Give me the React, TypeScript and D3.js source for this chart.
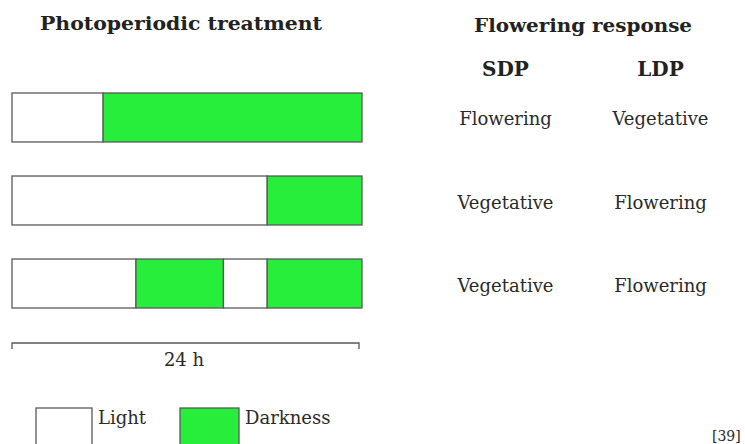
import React from "react";
import * as d3 from "d3";

// hours of light / dark, alternating, starting with light
const treatments = ["Short day", "Long day", "Night break"];
const segmentHours = [
  [6.25, 17.75],
  [17.5, 6.5],
  [8.5, 6, 3, 6.5],
];
const sdpResponse = ["Flowering", "Vegetative", "Vegetative"];
const ldpResponse = ["Vegetative", "Flowering", "Flowering"];
const plantTypes = ["SDP", "LDP"];
const legendItems = ["Light", "Darkness"];

const W = 745;
const H = 444;
const GREEN = "#26ee3a";
const STROKE = "#5a5a5a";
const FONT = "'DejaVu Serif', serif";

const App = () => {
  const x = d3.scaleLinear().domain([0, 24]).range([12, 362]);
  const y = d3.scaleBand().domain(treatments).range([93, 308]).paddingInner(0.41);
  const col = d3.scaleBand().domain(plantTypes).range([428, 738]);

  const rows = segmentHours.map((hrs, i) => {
    let acc = 0;
    const segs = hrs.map((h, j) => {
      const s = { start: acc, end: acc + h, dark: j % 2 === 1 };
      acc += h;
      return s;
    });
    return { name: treatments[i], segs };
  });

  const scaleY = 343;

  return (
    <svg width={W} height={H} style={{ display: "block", position: "absolute", left: 0, top: 0 }}>
      <rect width={W} height={H} fill="#fff" />
      <g fontFamily={FONT} fill="#222">
        <text x={181} y={30} textAnchor="middle" fontWeight="bold" fontSize={19} textLength={282} lengthAdjust="spacingAndGlyphs">
          Photoperiodic treatment
        </text>
        <text x={583} y={32} textAnchor="middle" fontWeight="bold" fontSize={19} textLength={218} lengthAdjust="spacingAndGlyphs">
          Flowering response
        </text>
        {plantTypes.map((p) => (
          <text key={p} x={col(p)! + col.bandwidth() / 2} y={76} textAnchor="middle" fontWeight="bold" fontSize={20}>
            {p}
          </text>
        ))}
      </g>

      {rows.map((r) => (
        <g key={r.name}>
          {r.segs.map((s, j) => (
            <rect
              key={j}
              x={x(s.start)}
              y={y(r.name)}
              width={x(s.end) - x(s.start)}
              height={y.bandwidth()}
              fill={s.dark ? GREEN : "#fff"}
              stroke={STROKE}
              strokeWidth={1.3}
            />
          ))}
        </g>
      ))}

      <g fontFamily={FONT} fill="#2a2a2a" fontSize={18}>
        {treatments.map((t, i) => (
          <g key={t}>
            <text x={col("SDP")! + col.bandwidth() / 2} y={y(t)! + y.bandwidth() / 2 + 8} textAnchor="middle">
              {sdpResponse[i]}
            </text>
            <text x={col("LDP")! + col.bandwidth() / 2} y={y(t)! + y.bandwidth() / 2 + 8} textAnchor="middle">
              {ldpResponse[i]}
            </text>
          </g>
        ))}
      </g>

      <path
        d={`M${x(0)},${scaleY + 6}V${scaleY}H${x(24) - 3}V${scaleY + 6}`}
        fill="none"
        stroke={STROKE}
        strokeWidth={1.3}
      />
      <text x={184} y={366} textAnchor="middle" fontFamily={FONT} fontSize={18} fill="#2a2a2a">
        24 h
      </text>

      {legendItems.map((l, i) => (
        <g key={l} transform={`translate(${i === 0 ? 36 : 180},408)`}>
          <rect width={i === 0 ? 56 : 59} height={38} fill={i === 0 ? "#fff" : GREEN} stroke={STROKE} strokeWidth={1.3} />
          <text x={(i === 0 ? 56 : 59) + 6} y={16} fontFamily={FONT} fontSize={18} fill="#2a2a2a">
            {l}
          </text>
        </g>
      ))}

      <text x={712} y={441} fontFamily={FONT} fontSize={14} fill="#2a2a2a">
        [39]
      </text>
    </svg>
  );
};

export default App;
